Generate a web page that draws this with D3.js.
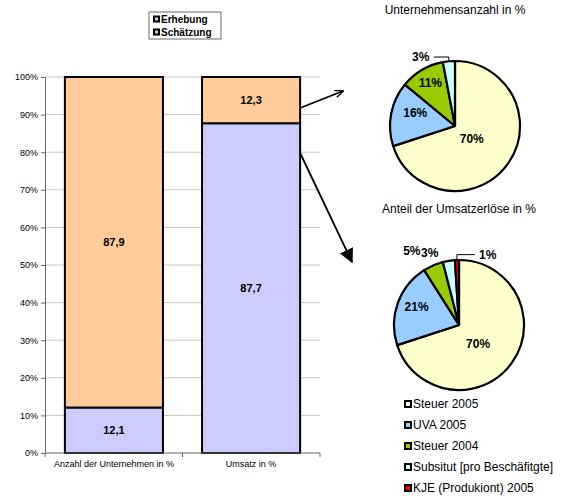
<!DOCTYPE html>
<html>
<head>
<meta charset="utf-8">
<script src="https://cdn.jsdelivr.net/npm/d3@7"></script>
<style>
  body { margin: 0; background: #fff; }
  svg { font-family: "Liberation Sans", Arial, sans-serif; }
</style>
</head>
<body>
<div id="chart"></div>
<script>
// bar chart data (percent)
const categories = ["Anzahl der Unternehmen in %", "Umsatz in %"];
const erhebung = [12.1, 87.7];
const schaetzung = [87.9, 12.3];
const barLabels = [["12,1", "87,9"], ["87,7", "12,3"]];
const yTicks = [0, 0.1, 0.2, 0.3, 0.4, 0.5, 0.6, 0.7, 0.8, 0.9, 1.0];

// pie data
const pieSeries = ["Steuer 2005", "UVA 2005", "Steuer 2004", "Subsitut [pro Beschäfitgte]", "KJE (Produkiont) 2005"];
const pieColors = ["#ffffcc", "#99ccff", "#99cc00", "#ccffff", "#ff0000"];
const pieAnzahl = [70, 16, 11, 3, 0];
const pieUmsatz = [70, 21, 5, 3, 1];
const labelsAnzahl = ["70%", "16%", "11%", "3%", ""];
const labelsUmsatz = ["70%", "21%", "5%", "3%", "1%"];

const width = 568, height = 498;
const svg = d3.select("#chart").append("svg")
  .attr("width", width).attr("height", height);

// ---- stacked bars ----
const margin = {top: 77, left: 45, right: 248, bottom: 45};
const plotW = width - margin.left - margin.right;
const plotH = height - margin.top - margin.bottom;
const g = svg.append("g").attr("transform", `translate(${margin.left},${margin.top})`);

const x = d3.scaleBand().domain(categories).range([0, plotW]).paddingInner(0.285).paddingOuter(0.145);
const y = d3.scaleLinear().domain([0, 1]).range([plotH, 0]);

// gridlines
g.append("g").selectAll("line").data(yTicks.slice(1)).enter().append("line")
  .attr("x1", 0).attr("x2", plotW)
  .attr("y1", d => y(d)).attr("y2", d => y(d))
  .attr("stroke", "#c8c8c8").attr("stroke-width", 1);

const yAxis = g.append("g")
  .call(d3.axisLeft(y).tickValues(yTicks).tickFormat(d3.format(".0%")).tickSize(4).tickPadding(3));
yAxis.select(".domain").attr("stroke", "#666");
yAxis.selectAll(".tick line").attr("stroke", "#666");
yAxis.selectAll("text").attr("font-size", 9).attr("fill", "#000")
  .attr("font-family", "Liberation Sans, Arial, sans-serif");

const stackData = categories.map((c, i) => ({cat: c, e: erhebung[i] / 100, s: schaetzung[i] / 100, i}));

const bars = g.append("g").selectAll("g").data(stackData).enter().append("g");
bars.append("rect")
  .attr("x", d => x(d.cat)).attr("width", x.bandwidth())
  .attr("y", d => y(d.e)).attr("height", d => y(0) - y(d.e))
  .attr("fill", "#ccccff").attr("stroke", "#000").attr("stroke-width", 2);
bars.append("rect")
  .attr("x", d => x(d.cat)).attr("width", x.bandwidth())
  .attr("y", d => y(d.e + d.s)).attr("height", d => y(d.e) - y(d.e + d.s))
  .attr("fill", "#ffcc99").attr("stroke", "#000").attr("stroke-width", 2);
bars.append("text")
  .attr("x", d => x(d.cat) + x.bandwidth() / 2)
  .attr("y", d => y(d.e / 2)).attr("dy", "0.35em")
  .attr("text-anchor", "middle").attr("font-size", 11).attr("font-weight", "bold")
  .text(d => barLabels[d.i][0]);
bars.append("text")
  .attr("x", d => x(d.cat) + x.bandwidth() / 2)
  .attr("y", d => y(d.e + d.s / 2)).attr("dy", "0.35em")
  .attr("text-anchor", "middle").attr("font-size", 11).attr("font-weight", "bold")
  .text(d => barLabels[d.i][1]);

// x axis with ticks at band boundaries
g.append("line").attr("x1", 0).attr("x2", plotW).attr("y1", plotH).attr("y2", plotH)
  .attr("stroke", "#666");
const bounds = [0, x.step() * (0.145 + 1 - 0.285 / 2 + 0.285 / 2) , plotW];
g.append("g").selectAll("line").data([0, (x(categories[0]) + x.bandwidth() + x(categories[1])) / 2, plotW])
  .enter().append("line")
  .attr("x1", d => d).attr("x2", d => d).attr("y1", plotH).attr("y2", plotH + 4)
  .attr("stroke", "#666");
g.append("g").selectAll("text").data(categories).enter().append("text")
  .attr("x", d => x(d) + x.bandwidth() / 2).attr("y", plotH + 14)
  .attr("text-anchor", "middle").attr("font-size", 9).text(d => d);

// top legend
const leg = svg.append("g").attr("transform", "translate(149,12)");
leg.append("rect").attr("width", 72).attr("height", 27)
  .attr("fill", "#fff").attr("stroke", "#444").attr("stroke-width", 0.8);
[["Erhebung", "#ccccff"], ["Schätzung", "#ffcc99"]].forEach((d, i) => {
  const it = leg.append("g").attr("transform", `translate(4,${7 + i * 13})`);
  it.append("rect").attr("x", 0).attr("y", -3.5).attr("width", 7).attr("height", 7).attr("fill", "#000");
  it.append("rect").attr("x", 2).attr("y", -1.5).attr("width", 3).attr("height", 3).attr("fill", d[1]);
  it.append("text").attr("x", 8).attr("y", 0).attr("dy", "0.35em")
    .attr("font-size", 10).attr("font-weight", "bold").text(d[0]);
});

// arrows
const defs = svg.append("defs");
defs.append("marker").attr("id", "ahSmall").attr("viewBox", "0 0 10 10")
  .attr("refX", 9).attr("refY", 5).attr("markerWidth", 5).attr("markerHeight", 5)
  .attr("orient", "auto").attr("markerUnits", "strokeWidth")
  .append("path").attr("d", "M0,1 L10,5 L0,9").attr("fill", "none").attr("stroke", "#000").attr("stroke-width", 1.5);
defs.append("marker").attr("id", "ahBig").attr("viewBox", "0 0 10 10")
  .attr("refX", 9).attr("refY", 5).attr("markerWidth", 8).attr("markerHeight", 8)
  .attr("orient", "auto").attr("markerUnits", "strokeWidth")
  .append("path").attr("d", "M0,0 L10,5 L0,10 Z").attr("fill", "#000");
const barRight = margin.left + x(categories[1]) + x.bandwidth();
svg.append("line").attr("x1", barRight).attr("y1", 108).attr("x2", 343).attr("y2", 91)
  .attr("stroke", "#000").attr("stroke-width", 1.8).attr("marker-end", "url(#ahSmall)");
svg.append("line").attr("x1", barRight).attr("y1", 153).attr("x2", 352).attr("y2", 262)
  .attr("stroke", "#000").attr("stroke-width", 1.8).attr("marker-end", "url(#ahBig)");

// ---- pies ----
const R = 65;
const pie = d3.pie().sort(null).value(d => d);
const arc = d3.arc().innerRadius(0).outerRadius(R);
const rad = Math.PI / 180;

function drawPie(cx, cy, title, values, labels, labelR, labelShift, leaders) {
  svg.append("text").attr("x", cx).attr("y", cy - 112).attr("text-anchor", "middle")
    .attr("font-size", 12).text(title);
  const pg = svg.append("g").attr("transform", `translate(${cx},${cy})`);
  const arcs = pie(values).filter(d => d.value > 0);
  pg.selectAll("path").data(arcs).enter().append("path")
    .attr("d", arc).attr("fill", d => pieColors[d.index])
    .attr("stroke", "#000").attr("stroke-width", 2.2).attr("stroke-linejoin", "round");
  arcs.forEach(d => {
    const mid = (d.startAngle + d.endAngle) / 2 + labelShift[d.index] * rad;
    const r = labelR[d.index];
    const lx = Math.sin(mid) * r, ly = -Math.cos(mid) * r;
    pg.append("text").attr("x", lx).attr("y", ly).attr("dy", "0.35em")
      .attr("text-anchor", "middle").attr("font-size", 12).attr("font-weight", "bold")
      .text(labels[d.index]);
    if (leaders[d.index]) {
      const m = (d.startAngle + d.endAngle) / 2;
      const ex = Math.sin(m) * (R + 1), ey = -Math.cos(m) * (R + 1);
      const side = lx < ex ? 1 : -1;
      const sx = lx + side * 13;
      pg.append("polyline")
        .attr("points", `${sx},${ly} ${ex},${ly} ${ex},${ey}`)
        .attr("fill", "none").attr("stroke", "#000").attr("stroke-width", 1);
    }
  });
}

drawPie(455, 126, "Unternehmensanzahl in %", pieAnzahl, labelsAnzahl,
  [21, 42, 50, 77, 0], [1, 8, 1, -21, 0], [false, false, false, true, false]);
drawPie(459, 325, "Anteil der Umsatzerlöse in %", pieUmsatz, labelsUmsatz,
  [27, 46, 88, 78, 76], [9, 3, -9, -13, 24], [false, false, false, false, true]);

// pie legend
const pl = svg.append("g").attr("transform", "translate(404,404)");
pieSeries.forEach((s, i) => {
  const it = pl.append("g").attr("transform", `translate(0,${i * 21})`);
  it.append("rect").attr("x", 0).attr("y", -4).attr("width", 8).attr("height", 8).attr("fill", "#000");
  it.append("rect").attr("x", 2).attr("y", -2).attr("width", 4).attr("height", 4).attr("fill", pieColors[i]);
  it.append("text").attr("x", 9).attr("y", 0).attr("dy", "0.35em")
    .attr("font-size", 12).text(s);
});
</script>
</body>
</html>
